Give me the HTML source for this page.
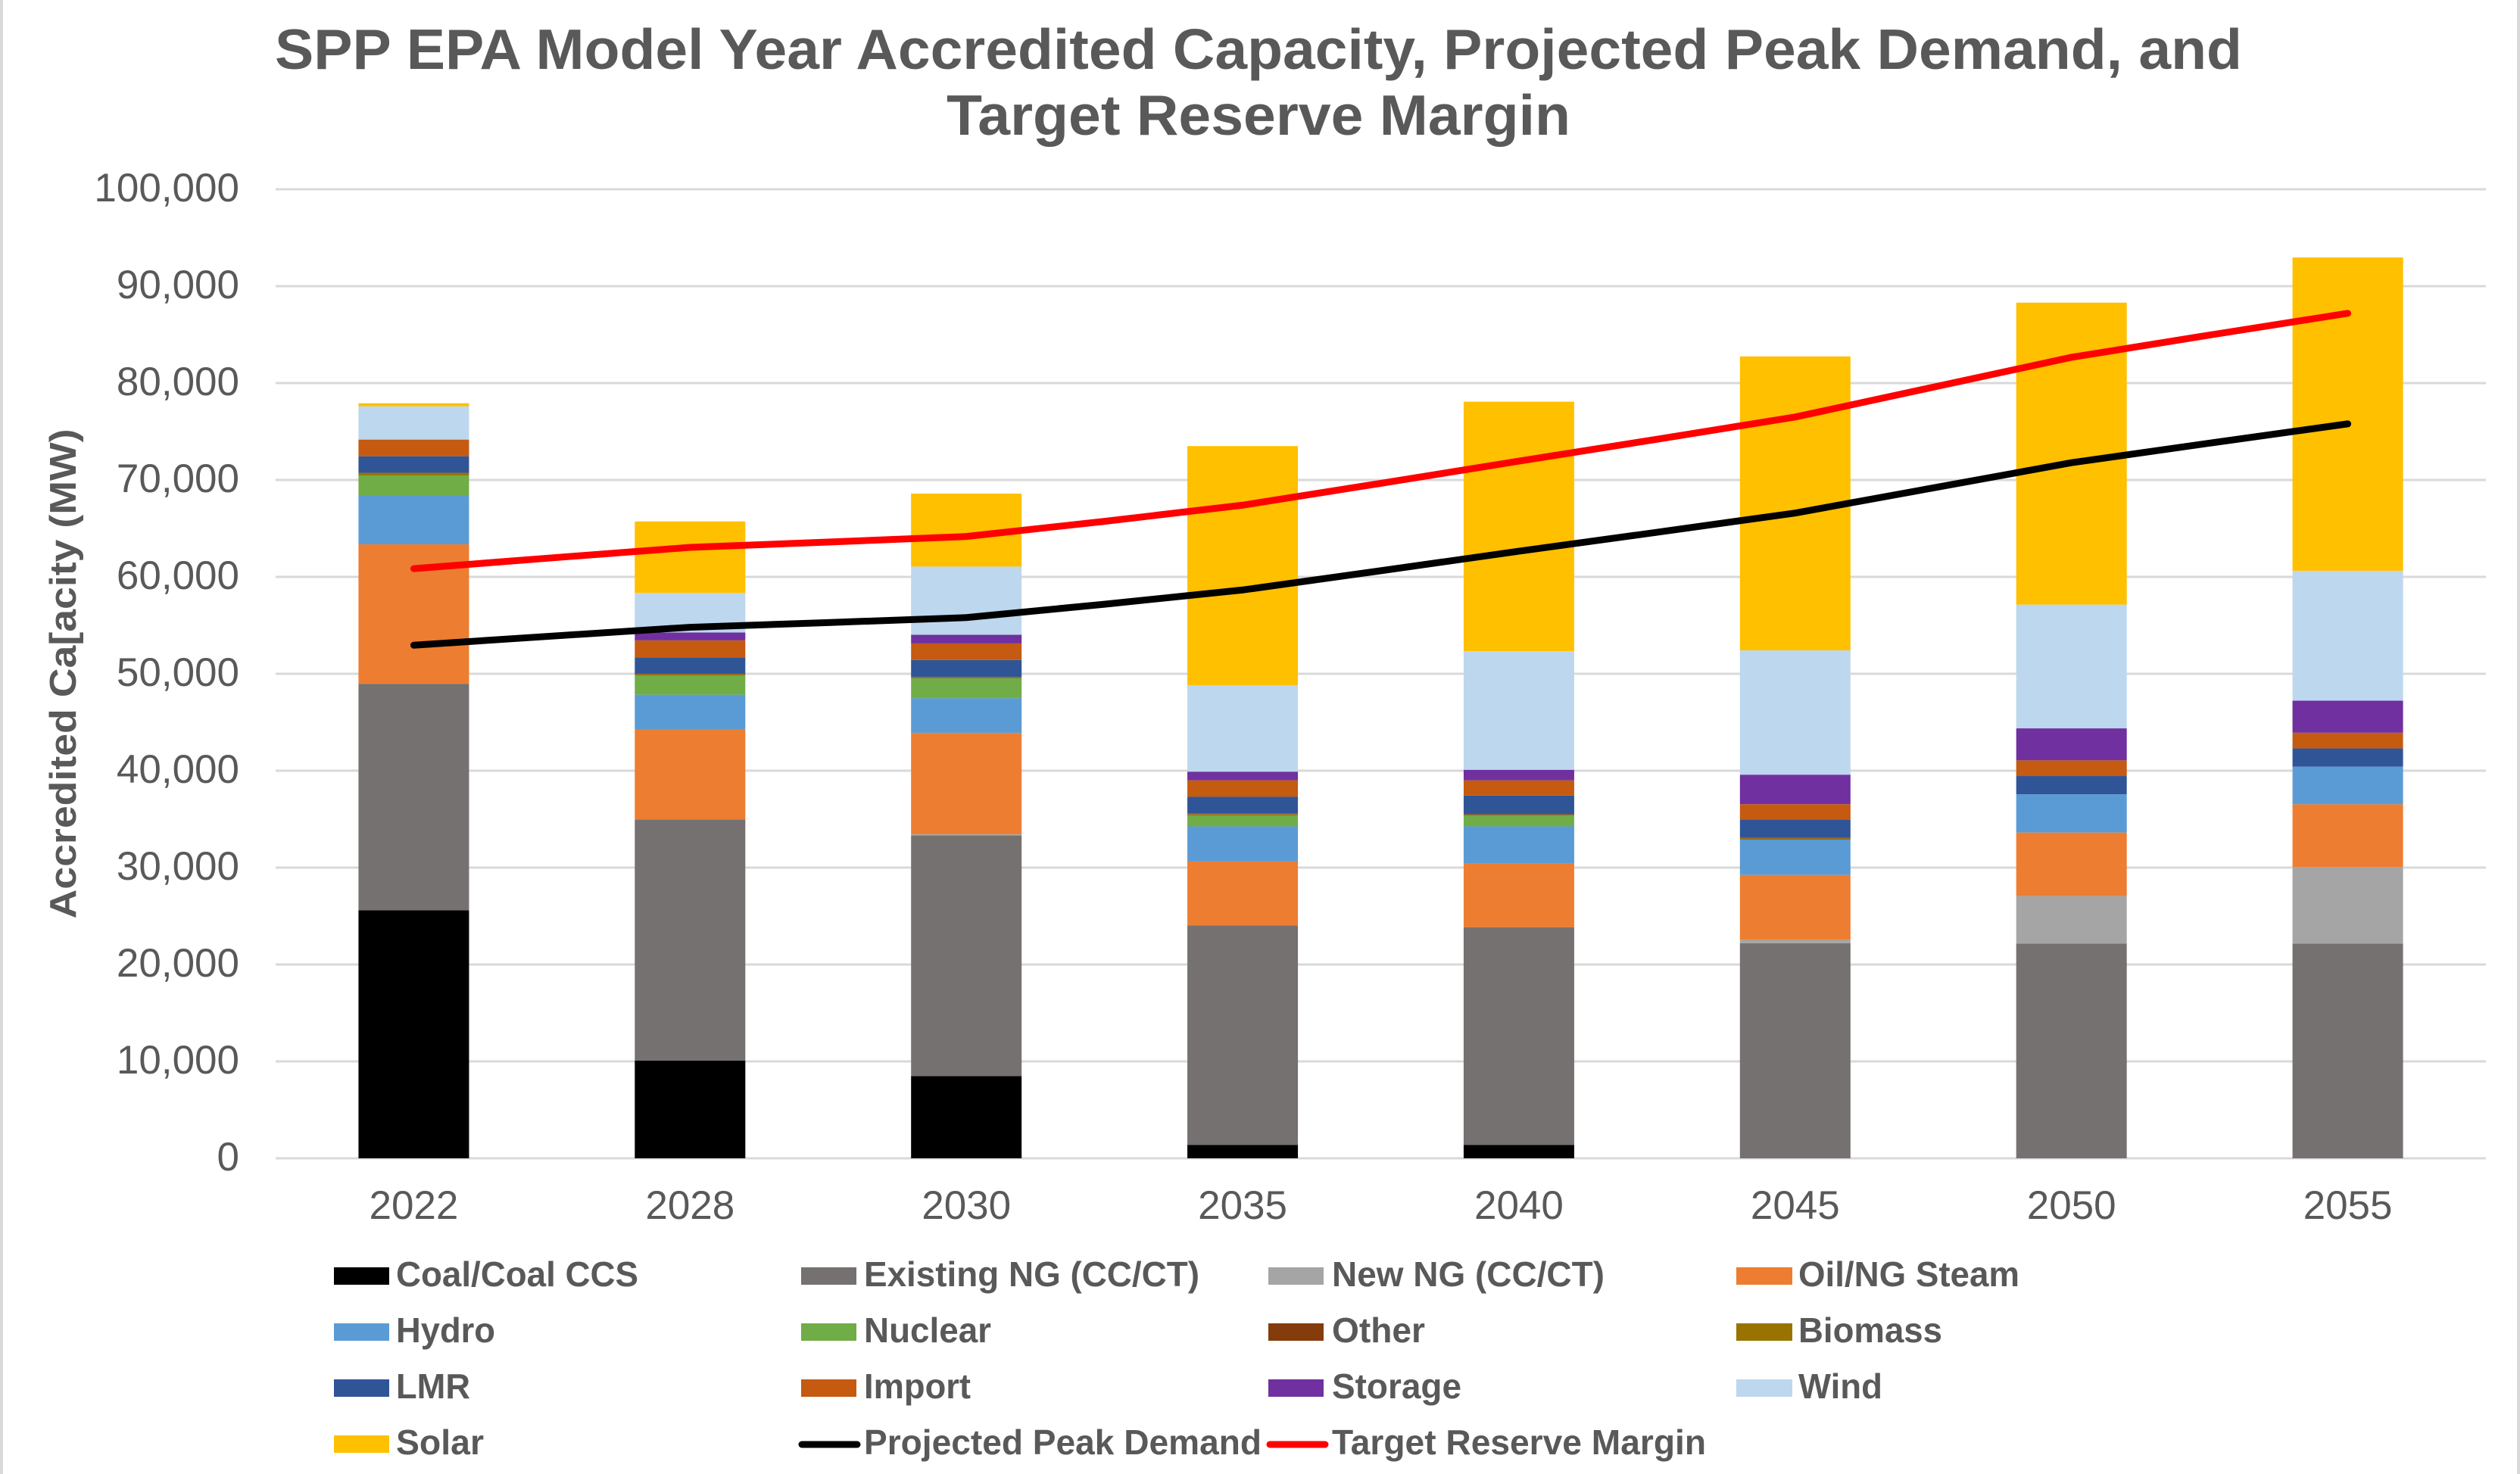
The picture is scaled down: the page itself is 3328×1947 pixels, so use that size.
<!DOCTYPE html>
<html lang="en">
<head>
<meta charset="utf-8">
<title>SPP EPA Model Year Accredited Capacity</title>
<style>
html,body{margin:0;padding:0;background:#fff;}
body{width:3328px;height:1947px;overflow:hidden;}
svg{display:block;font-family:"Liberation Sans",Arial,sans-serif;}
.title{font-size:75px;font-weight:bold;fill:#595959;}
.axis-title{font-size:49px;font-weight:bold;fill:#595959;}
.tick{font-size:53px;fill:#595959;}
.legend-text{font-size:46px;font-weight:bold;fill:#595959;}
.grid{stroke:#D9D9D9;stroke-width:3;fill:none;}
.s-coal{fill:#000000}.s-existing{fill:#757170}.s-newng{fill:#A5A5A5}.s-oil{fill:#ED7D31}
.s-hydro{fill:#5B9BD5}.s-nuclear{fill:#70AD47}.s-other{fill:#843C0C}.s-biomass{fill:#997300}
.s-lmr{fill:#2F5597}.s-import{fill:#C55A11}.s-storage{fill:#7030A0}.s-wind{fill:#BDD7EE}.s-solar{fill:#FFC000}
.line{fill:none;stroke-width:9;stroke-linecap:round;stroke-linejoin:round;}
</style>
</head>
<body>
<svg id="chart" xmlns="http://www.w3.org/2000/svg" width="3328" height="1947" viewBox="0 0 3328 1947">
  <rect x="0" y="0" width="3328" height="1947" fill="#ffffff"/>
  <rect x="0" y="0" width="4" height="1947" fill="#D9D9D9"/>
  <rect x="3324" y="0" width="4" height="1947" fill="#D9D9D9"/>
  <text class="title" x="1662" y="91" text-anchor="middle" textLength="2598" lengthAdjust="spacingAndGlyphs">SPP EPA Model Year Accredited Capacity, Projected Peak Demand, and</text>
  <text class="title" x="1662" y="178" text-anchor="middle" textLength="824" lengthAdjust="spacingAndGlyphs">Target Reserve Margin</text>
  <text class="axis-title" transform="translate(100,890) rotate(-90)" text-anchor="middle" textLength="647" lengthAdjust="spacingAndGlyphs">Accredited Ca[acity (MW)</text>
  <g id="grid"></g>
  <g id="yticks"></g>
  <g id="bars"></g>
  <g id="lines"></g>
  <g id="xticks"></g>
  <g id="legend">
    <g><rect class="s-coal" x="441" y="1674" width="73" height="23"/><text class="legend-text" x="523" y="1699" textLength="320" lengthAdjust="spacingAndGlyphs">Coal/Coal CCS</text></g>
    <g><rect class="s-existing" x="1058" y="1674" width="73" height="23"/><text class="legend-text" x="1141" y="1699" textLength="443" lengthAdjust="spacingAndGlyphs">Existing NG (CC/CT)</text></g>
    <g><rect class="s-newng" x="1675" y="1674" width="73" height="23"/><text class="legend-text" x="1759" y="1699" textLength="360" lengthAdjust="spacingAndGlyphs">New NG (CC/CT)</text></g>
    <g><rect class="s-oil" x="2293" y="1674" width="74" height="23"/><text class="legend-text" x="2375" y="1699" textLength="292" lengthAdjust="spacingAndGlyphs">Oil/NG Steam</text></g>

    <g><rect class="s-hydro" x="441" y="1748" width="73" height="23"/><text class="legend-text" x="523" y="1773" textLength="131" lengthAdjust="spacingAndGlyphs">Hydro</text></g>
    <g><rect class="s-nuclear" x="1058" y="1748" width="73" height="23"/><text class="legend-text" x="1141" y="1773" textLength="168" lengthAdjust="spacingAndGlyphs">Nuclear</text></g>
    <g><rect class="s-other" x="1675" y="1748" width="73" height="23"/><text class="legend-text" x="1759" y="1773" textLength="123" lengthAdjust="spacingAndGlyphs">Other</text></g>
    <g><rect class="s-biomass" x="2293" y="1748" width="74" height="23"/><text class="legend-text" x="2375" y="1773" textLength="190" lengthAdjust="spacingAndGlyphs">Biomass</text></g>

    <g><rect class="s-lmr" x="441" y="1822" width="73" height="23"/><text class="legend-text" x="523" y="1847" textLength="98" lengthAdjust="spacingAndGlyphs">LMR</text></g>
    <g><rect class="s-import" x="1058" y="1822" width="73" height="23"/><text class="legend-text" x="1141" y="1847" textLength="141" lengthAdjust="spacingAndGlyphs">Import</text></g>
    <g><rect class="s-storage" x="1675" y="1822" width="73" height="23"/><text class="legend-text" x="1759" y="1847" textLength="171" lengthAdjust="spacingAndGlyphs">Storage</text></g>
    <g><rect class="s-wind" x="2293" y="1822" width="74" height="23"/><text class="legend-text" x="2375" y="1847" textLength="111" lengthAdjust="spacingAndGlyphs">Wind</text></g>

    <g><rect class="s-solar" x="441" y="1896" width="73" height="23"/><text class="legend-text" x="523" y="1921" textLength="116" lengthAdjust="spacingAndGlyphs">Solar</text></g>
    <g><line x1="1059" y1="1908" x2="1132" y2="1908" stroke="#000000" stroke-width="9" stroke-linecap="round"/><text class="legend-text" x="1141" y="1921" textLength="525" lengthAdjust="spacingAndGlyphs">Projected Peak Demand</text></g>
    <g><line x1="1677" y1="1908" x2="1750" y2="1908" stroke="#FF0000" stroke-width="9" stroke-linecap="round"/><text class="legend-text" x="1759" y="1921" textLength="494" lengthAdjust="spacingAndGlyphs">Target Reserve Margin</text></g>
  </g>
</svg>
<script>
const categories = ['2022','2028','2030','2035','2040','2045','2050','2055'];
const yTickValues = [0,10000,20000,30000,40000,50000,60000,70000,80000,90000,100000];

const coal     = [25600,10090,8475,1390,1390,0,0,0];
const existing = [23370,24885,24840,22640,22460,22200,22155,22155];
const newng    = [0,0,130,0,0,350,4925,7905];
const oil      = [14390,9285,10450,6600,6550,6690,6540,6480];
const hydro    = [5080,3580,3590,3630,3860,3670,3950,3880];
const nuclear  = [2030,2020,2060,1160,1120,0,0,0];
const other    = [0,70,60,70,70,90,0,0];
const biomass  = [270,70,70,70,60,90,0,0];
const lmr      = [1710,1700,1750,1750,1930,1885,1880,1880];
const imports  = [1720,1750,1705,1700,1570,1570,1620,1620];
const storage  = [0,810,895,890,1080,3045,3300,3305];
const wind     = [3430,4080,7040,8930,12240,12830,12770,13405];
const solar    = [320,7380,7530,24670,25750,30330,31160,32330];

const peakDemand   = [52950,54800,55800,58650,62650,66590,71780,75790];
const targetMargin = [60850,63045,64170,67400,71950,76500,82660,87200];

const stackKeys = ['coal','existing','newng','oil','hydro','nuclear','other','biomass','lmr','import','storage','wind','solar'];
const stackValues = [coal,existing,newng,oil,hydro,nuclear,other,biomass,lmr,imports,storage,wind,solar];

const NS = 'http://www.w3.org/2000/svg';
const plotLeft = 364, plotRight = 3283, plotBottom = 1530, plotTop = 250, axisMax = 100000;
const barWidth = 146;

function yScale(v){ return plotBottom - (v / axisMax) * (plotBottom - plotTop); }
function xCenter(i){ return plotLeft + (i + 0.5) * (plotRight - plotLeft) / categories.length; }
function formatTick(v){ return v.toLocaleString('en-US'); }
function make(tag){ return document.createElementNS(NS, tag); }

const gridG = document.getElementById('grid');
const yG = document.getElementById('yticks');
yTickValues.forEach(function(v){
  const gl = make('line');
  
  
  gl.setAttribute('class', 'grid');
  gl.setAttribute('x1', plotLeft);
  gl.setAttribute('x2', plotRight);
  gl.setAttribute('y1', yScale(v));
  gl.setAttribute('y2', yScale(v));
  gridG.appendChild(gl);
  const t = make('text');
  
  
  t.setAttribute('class', 'tick');
  t.setAttribute('x', 316);
  t.setAttribute('y', yScale(v) + 16);
  t.setAttribute('text-anchor', 'end');
  t.textContent = formatTick(v);
  yG.appendChild(t);
});

const barsG = document.getElementById('bars');
const xG = document.getElementById('xticks');
categories.forEach(function(cat, i){
  let base = 0;
  stackKeys.forEach(function(key, s){
    const val = stackValues[s][i];
    const r = make('rect');
    
    
    r.setAttribute('class', 's-' + key);
    r.setAttribute('x', xCenter(i) - barWidth / 2);
    r.setAttribute('y', yScale(base + val));
    r.setAttribute('width', barWidth);
    r.setAttribute('height', Math.max(0, yScale(base) - yScale(base + val)));
    barsG.appendChild(r);
    base += val;
  });
  const t = make('text');
  
  
  t.setAttribute('class', 'tick');
  t.setAttribute('x', xCenter(i));
  t.setAttribute('y', 1610);
  t.setAttribute('text-anchor', 'middle');
  t.textContent = cat;
  xG.appendChild(t);
});

function linePath(values){
  const pts = values.map(function(v, i){ return [xCenter(i), yScale(v)]; });
  const k = 0.04;
  let d = 'M' + pts[0][0] + ',' + pts[0][1];
  for (let i = 0; i < pts.length - 1; i++){
    const p0 = pts[Math.max(0, i - 1)], p1 = pts[i], p2 = pts[i + 1], p3 = pts[Math.min(pts.length - 1, i + 2)];
    d += ' C' + (p1[0] + (p2[0] - p0[0]) * k) + ',' + (p1[1] + (p2[1] - p0[1]) * k) +
         ' ' + (p2[0] - (p3[0] - p1[0]) * k) + ',' + (p2[1] - (p3[1] - p1[1]) * k) +
         ' ' + p2[0] + ',' + p2[1];
  }
  return d;
}

const linesG = document.getElementById('lines');
const peakLine = make('path');


peakLine.setAttribute('class', 'line');
peakLine.setAttribute('stroke', '#000000');
peakLine.setAttribute('d', linePath(peakDemand));
linesG.appendChild(peakLine);
const targetLine = make('path');


targetLine.setAttribute('class', 'line');
targetLine.setAttribute('stroke', '#FF0000');
targetLine.setAttribute('d', linePath(targetMargin));
linesG.appendChild(targetLine);
</script>
</body>
</html>
